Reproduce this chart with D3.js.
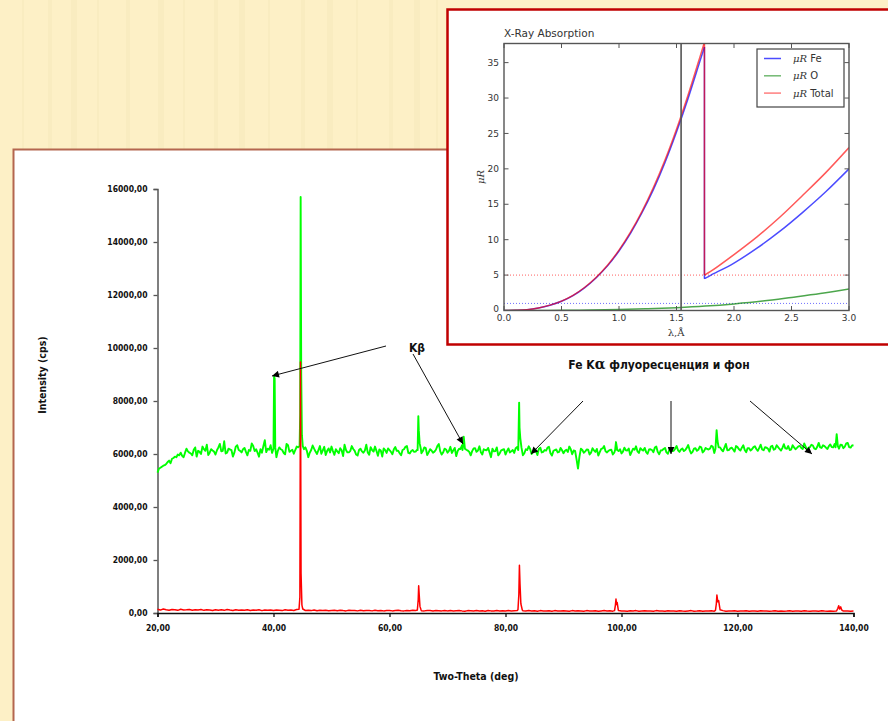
<!DOCTYPE html>
<html><head><meta charset="utf-8">
<script src="https://cdn.jsdelivr.net/npm/d3@7"></script>
<style>html,body{margin:0;padding:0;background:#fdf0c6;} svg{display:block}</style>
</head><body>
<svg id="c" width="888" height="721"></svg>
<script>
// ---------------- DATA ----------------
// main XRD scan: 2θ sampling grid (deg), half-degree points
const twoTheta = [
20,20.5,21,21.5,22,22.5,23,23.5,24,24.5,25,25.5,26,26.5,27,27.5,28,28.5,29,29.5,
30,30.5,31,31.5,32,32.5,33,33.5,34,34.5,35,35.5,36,36.5,37,37.5,38,38.5,39,39.5,
40,40.5,41,41.5,42,42.5,43,43.5,44,44.5,45,45.5,46,46.5,47,47.5,48,48.5,49,49.5,
50,50.5,51,51.5,52,52.5,53,53.5,54,54.5,55,55.5,56,56.5,57,57.5,58,58.5,59,59.5,
60,60.5,61,61.5,62,62.5,63,63.5,64,64.5,65,65.5,66,66.5,67,67.5,68,68.5,69,69.5,
70,70.5,71,71.5,72,72.5,73,73.5,74,74.5,75,75.5,76,76.5,77,77.5,78,78.5,79,79.5,
80,80.5,81,81.5,82,82.5,83,83.5,84,84.5,85,85.5,86,86.5,87,87.5,88,88.5,89,89.5,
90,90.5,91,91.5,92,92.5,93,93.5,94,94.5,95,95.5,96,96.5,97,97.5,98,98.5,99,99.5,
100,100.5,101,101.5,102,102.5,103,103.5,104,104.5,105,105.5,106,106.5,107,107.5,108,108.5,109,109.5,
110,110.5,111,111.5,112,112.5,113,113.5,114,114.5,115,115.5,116,116.5,117,117.5,118,118.5,119,119.5,
120,120.5,121,121.5,122,122.5,123,123.5,124,124.5,125,125.5,126,126.5,127,127.5,128,128.5,129,129.5,
130,130.5,131,131.5,132,132.5,133,133.5,134,134.5,135,135.5,136,136.5,137,137.5,138,138.5,139,139.5,
140];
// intermediate (quarter-degree) points of the green scan
const twoThetaQ = [
20.25,20.75,21.25,21.75,22.25,22.75,23.25,23.75,24.25,24.75,25.25,25.75,26.25,26.75,27.25,27.75,28.25,28.75,29.25,29.75,
30.25,30.75,31.25,31.75,32.25,32.75,33.25,33.75,34.25,34.75,35.25,35.75,36.25,36.75,37.25,37.75,38.25,38.75,39.25,39.75,
40.25,40.75,41.25,41.75,42.25,42.75,43.25,43.75,44.25,44.75,45.25,45.75,46.25,46.75,47.25,47.75,48.25,48.75,49.25,49.75,
50.25,50.75,51.25,51.75,52.25,52.75,53.25,53.75,54.25,54.75,55.25,55.75,56.25,56.75,57.25,57.75,58.25,58.75,59.25,59.75,
60.25,60.75,61.25,61.75,62.25,62.75,63.25,63.75,64.25,64.75,65.25,65.75,66.25,66.75,67.25,67.75,68.25,68.75,69.25,69.75,
70.25,70.75,71.25,71.75,72.25,72.75,73.25,73.75,74.25,74.75,75.25,75.75,76.25,76.75,77.25,77.75,78.25,78.75,79.25,79.75,
80.25,80.75,81.25,81.75,82.25,82.75,83.25,83.75,84.25,84.75,85.25,85.75,86.25,86.75,87.25,87.75,88.25,88.75,89.25,89.75,
90.25,90.75,91.25,91.75,92.25,92.75,93.25,93.75,94.25,94.75,95.25,95.75,96.25,96.75,97.25,97.75,98.25,98.75,99.25,99.75,
100.25,100.75,101.25,101.75,102.25,102.75,103.25,103.75,104.25,104.75,105.25,105.75,106.25,106.75,107.25,107.75,108.25,108.75,109.25,109.75,
110.25,110.75,111.25,111.75,112.25,112.75,113.25,113.75,114.25,114.75,115.25,115.75,116.25,116.75,117.25,117.75,118.25,118.75,119.25,119.75,
120.25,120.75,121.25,121.75,122.25,122.75,123.25,123.75,124.25,124.75,125.25,125.75,126.25,126.75,127.25,127.75,128.25,128.75,129.25,129.75,
130.25,130.75,131.25,131.75,132.25,132.75,133.25,133.75,134.25,134.75,135.25,135.75,136.25,136.75,137.25,137.75,138.25,138.75,139.25,139.75];
// green trace (Fe Kα fluorescence + background), cps, on twoTheta
const greenBase = [
5300,5480,5560,5620,5750,5820,5900,5980,6050,5880,
6200,6050,5950,6250,6120,6000,6180,6350,6050,6130,
5980,6250,6100,6480,6050,6170,5900,6280,6150,6060,
6230,5950,6120,6300,6180,5900,6050,6520,6200,6330,
6100,5880,6250,6150,5990,6330,6120,6010,6280,6200,
6060,6250,5880,6150,6200,6000,6300,6140,5960,6210,
6280,5970,6100,6220,5920,6150,6060,6300,6120,5940,
6200,6050,6350,5970,6150,6280,5930,6130,6210,6040,
6150,5990,6260,6120,5950,6180,6300,6020,6150,6090,
6120,6030,6250,5960,6180,6050,6160,6380,5980,6200,
6050,6270,6140,5920,6200,6330,6050,6130,5950,6210,
6080,6290,5980,6150,6230,5880,6100,6250,6020,6160,
5980,6210,6100,6040,6260,6100,5950,6180,6290,6000,
6180,5960,6240,6080,6130,6270,5940,6150,6060,6230,
6030,6160,6280,5990,6120,5450,6200,6050,6170,5980,
6220,6080,5940,6190,6300,6060,6150,5980,6260,6110,
6020,6240,6130,5960,6200,6290,6040,6160,6230,6010,
6180,6070,6280,5990,6140,6230,6010,6190,6120,6300,
6080,6210,6150,6340,6020,6200,6120,6280,6060,6230,
6170,6310,6040,6190,6250,6100,6380,6150,6240,6090,
6260,6130,6330,6070,6220,6180,6290,6120,6350,6140,
6240,6090,6310,6190,6260,6130,6370,6200,6150,6330,
6180,6290,6230,6400,6140,6260,6320,6180,6420,6230,
6300,6190,6360,6250,6480,6200,6340,6280,6420,6240,
6330];
// green trace, cps, on twoThetaQ
const greenQ = [
5450,5520,5580,5700,5650,5850,5880,5950,5930,6050,
6100,6020,6160,5900,6080,6280,6120,5960,6180,6090,
6140,6380,6120,6020,6200,6150,6050,6330,6120,6180,
6080,6150,6400,6110,6050,6180,6290,6070,6160,6040,
6000,6120,6180,6040,6380,6080,6160,6150,6250,6100,
6180,6120,6050,6320,6090,6150,6010,6270,6120,6060,
6110,6180,6030,6140,6350,6060,6120,6190,5980,6150,
6100,6130,6060,6260,6090,6120,6170,5900,6150,6210,
6080,6180,6120,6030,6150,6270,6040,6110,6080,6160,
6200,6110,6220,6060,6130,6090,6300,6100,6060,6170,
6120,6040,6230,6110,6190,6100,6160,6080,6110,6220,
6130,6070,6180,6140,6060,6200,6110,5950,6140,6180,
6110,6060,6150,6220,6100,6150,6030,6150,6190,6080,
6120,6190,6060,6150,6240,6030,6110,6170,6080,6140,
6120,6080,6180,6130,5800,5900,6150,6100,6160,6050,
6140,6190,6070,6210,6100,6120,6160,6050,6150,6180,
6090,6140,6210,6080,6160,6100,6220,6130,6070,6170,
6150,6240,6080,6130,6190,6060,6160,6110,6200,6140,
6170,6110,6230,6150,6080,6220,6160,6250,6120,6190,
6200,6270,6050,6100,6160,6240,6140,6210,6170,6300,
6180,6240,6150,6220,6130,6260,6190,6230,6170,6260,
6200,6280,6160,6330,6190,6230,6210,6300,6170,6250,
6230,6310,6190,6280,6240,6350,6200,6270,6250,6330,
6240,6300,6260,6380,6150,6350,6220,6400,6260,6320];
// red trace (filtered diffraction pattern), cps, on twoTheta
const redBase = [
140,110,150,120,105,135,125,100,140,115,
120,135,105,125,110,130,100,120,115,95,
125,105,120,100,130,110,95,120,105,115,
100,120,95,110,105,125,90,115,100,110,
95,115,105,90,120,100,110,95,130,110,
120,95,105,90,110,85,100,95,105,85,
95,100,85,105,90,80,100,90,95,80,
100,85,90,95,80,100,85,95,80,90,
95,80,90,100,85,80,95,85,100,90,
95,85,80,95,90,75,90,85,80,95,
80,90,75,85,95,80,70,90,85,75,
90,80,85,70,95,80,75,90,80,85,
75,90,80,85,90,70,85,80,90,75,
85,70,90,80,75,85,70,90,80,75,
85,80,70,90,75,85,80,70,90,80,
75,85,70,80,90,75,85,70,80,90,
75,80,70,85,75,90,70,80,85,75,
80,70,90,75,80,70,85,75,80,70,
85,75,70,80,90,70,75,85,70,80,
75,85,70,80,75,90,70,80,75,85,
70,80,75,85,70,80,75,70,85,75,
80,70,75,85,70,80,70,75,85,70,
75,80,70,85,75,70,80,75,70,85,
75,70,80,70,75,85,70,75,80,70,
75];
// narrow peaks (2θ, cps)
const greenPeakTheta = [
 [40.0,40.1,40.2,40.3],
 [44.5,44.6,44.68,44.78,44.9,45.05],
 [64.85,64.97,65.05,65.2,65.4],
 [72.6,72.8,73.0],
 [82.2,82.35,82.42,82.55,82.75],
 [98.9,99.05,99.2],
 [116.2,116.4,116.55,116.75],
 [136.9,137.1,137.3]];
const greenPeakCps = [
 [6200,8920,8850,6250],
 [6300,7500,15700,9000,6700,6300],
 [6150,7430,6900,6400,6200],
 [6150,6650,6200],
 [6150,7940,7000,6600,6250],
 [6150,6450,6250],
 [6200,6900,6500,6250],
 [6250,6750,6300]];
const redPeakTheta = [
 [44.4,44.55,44.65,44.75,44.9,45.05],
 [64.8,64.95,65.03,65.12,65.25,65.45],
 [82.15,82.3,82.4,82.5,82.65,82.9],
 [98.8,98.95,99.05,99.15,99.25,99.45],
 [116.2,116.35,116.45,116.6,116.75,117.0],
 [137.1,137.3,137.45,137.6,137.8,137.95,138.2]];
const redPeakCps = [
 [140,600,9470,1500,300,150],
 [110,500,1030,700,250,110],
 [120,700,1800,1100,350,110],
 [90,300,530,320,400,110],
 [100,350,680,420,470,120],
 [85,180,275,150,230,120,80]];
const xTicks = [20,40,60,80,100,120,140];
const yTicks = [0,2000,4000,6000,8000,10000,12000,14000,16000];

// inset: X-ray absorption
const lamBelow = [0,0.1,0.2,0.3,0.4,0.5,0.6,0.7,0.8,0.9,1.0,1.1,1.2,1.3,1.4,1.5,1.6,1.7,1.743];
const feBelow  = [0,0.02,0.1,0.35,0.75,1.3,2.1,3.2,4.6,6.3,8.4,10.9,13.8,17.1,20.9,25.2,29.9,35.0,37.2];
const totBelow = [0,0.02,0.1,0.35,0.76,1.33,2.14,3.25,4.67,6.4,8.53,11.06,14.0,17.4,21.25,25.6,30.4,35.6,37.9];
const lamAbove = [1.743,1.8,2.0,2.2,2.4,2.6,2.8,3.0];
const feAbove  = [4.5,5.0,6.7,8.8,11.2,13.9,16.8,20.0];
const totAbove = [5.0,5.55,7.9,10.4,13.2,16.3,19.5,23.0];
const lamO = [0,0.25,0.5,0.75,1.0,1.25,1.5,1.75,2.0,2.25,2.5,2.75,3.0];
const muO  = [0,0.005,0.03,0.07,0.13,0.24,0.4,0.62,0.93,1.33,1.85,2.4,3.05];
const cuKa = 1.54;
const refLevels = [5, 1];
const insetXTicks = [0,0.5,1.0,1.5,2.0,2.5,3.0];
const insetYTicks = [0,5,10,15,20,25,30,35];
const legendLabels = ["Fe","O","Total"];

// ---------------- DRAW ----------------
const svg = d3.select("#c");
const defs = svg.append("defs");

// background with faint vertical texture (decorative)
svg.append("rect").attr("width",888).attr("height",721).attr("fill","#fdf0c6");
const stripes = [22,48,71,97,126,158,183,214,239,268,301,327,356,389,414,436];
svg.selectAll("rect.stripe").data(stripes).join("rect").attr("class","stripe")
  .attr("x",d=>d).attr("y",0).attr("width",(d,i)=>2+(i%3)*2).attr("height",721)
  .attr("fill","#f1dfae").attr("opacity",0.25);

// main panel
svg.append("rect").attr("x",13.5).attr("y",149.5).attr("width",900).attr("height",600)
  .attr("fill","#fff").attr("stroke","#b4664f").attr("stroke-width",2);

const x = d3.scaleLinear().domain([20,140]).range([157.5,853.5]);
const y = d3.scaleLinear().domain([0,16000]).range([613,189]);

function merge(series, pX, pY){
  const pts = [];
  series.forEach(([bx,by])=>{
    bx.forEach((t,i)=>{
      const inside = pX.some(g => t >= g[0] && t <= g[g.length-1]);
      if(!inside) pts.push([t, by[i]]);
    });
  });
  pX.forEach((g,j)=> g.forEach((t,k)=> pts.push([t, pY[j][k]])));
  pts.sort((a,b)=>a[0]-b[0]);
  return pts;
}
const greenPts = merge([[twoTheta, greenBase],[twoThetaQ, greenQ]], greenPeakTheta, greenPeakCps);
const redPts = merge([[twoTheta, redBase]], redPeakTheta, redPeakCps);
const line = d3.line().x(d=>x(d[0])).y(d=>y(d[1]));

const fmt = d => d3.format(".2f")(d).replace(".", ",");
const tickFont = "'DejaVu Sans Condensed','DejaVu Sans',sans-serif";

const gy = svg.append("g").attr("transform","translate(157.5,0)")
  .call(d3.axisLeft(y).tickValues(yTicks).tickFormat(fmt).tickSize(4).tickPadding(6));
gy.select(".domain").attr("stroke","#555").attr("stroke-width",1.5);
gy.selectAll(".tick line").attr("stroke","#555").attr("stroke-width",1.3);
gy.selectAll("text").attr("font-family",tickFont).attr("font-weight","bold").attr("font-size","8.5px").attr("fill","#111");

const gx = svg.append("g").attr("transform","translate(0,613)")
  .call(d3.axisBottom(x).tickValues(xTicks).tickFormat(fmt).tickSize(4).tickPadding(8));
gx.select(".domain").attr("stroke","#111").attr("stroke-width",1.5);
gx.selectAll(".tick line").attr("stroke","#111").attr("stroke-width",1.3);
gx.selectAll("text").attr("font-family",tickFont).attr("font-weight","bold").attr("font-size","8.5px").attr("fill","#111");

svg.append("path").datum(greenPts).attr("d",line).attr("fill","none")
  .attr("stroke","#00ff00").attr("stroke-width",1.9).attr("stroke-linejoin","round");
svg.append("path").datum(redPts).attr("d",line).attr("fill","none")
  .attr("stroke","#ff0000").attr("stroke-width",1.5).attr("stroke-linejoin","round");

svg.append("text").attr("transform","translate(46,375) rotate(-90)")
  .attr("text-anchor","middle").attr("font-family",tickFont).attr("font-weight","bold")
  .attr("font-size","10.5px").attr("fill","#111").text("Intensity (cps)");
svg.append("text").attr("x",476).attr("y",680)
  .attr("text-anchor","middle").attr("font-family",tickFont).attr("font-weight","bold")
  .attr("font-size","10.5px").attr("fill","#111").text("Two-Theta (deg)");

// annotations
defs.append("marker").attr("id","ah").attr("viewBox","0 0 10 10").attr("refX",10).attr("refY",5)
  .attr("markerWidth",9).attr("markerHeight",7).attr("markerUnits","userSpaceOnUse").attr("orient","auto")
  .append("path").attr("d","M0,0 L10,5 L0,10 z").attr("fill","#000");
const arrows = [
  [386,346,272,376],[413,354,463,444],
  [583,401,531,454],[671,401,671,454],[750,401,812,454]];
svg.selectAll("line.arr").data(arrows).join("line").attr("class","arr")
  .attr("x1",d=>d[0]).attr("y1",d=>d[1]).attr("x2",d=>d[2]).attr("y2",d=>d[3])
  .attr("stroke","#111").attr("stroke-width",1).attr("marker-end","url(#ah)");
svg.append("text").attr("x",409).attr("y",352).attr("font-family",tickFont).attr("font-weight","bold")
  .attr("font-size","12px").attr("fill","#111").text("Kβ");
const fe = svg.append("text").attr("x",659).attr("y",369).attr("text-anchor","middle")
  .attr("font-family",tickFont).attr("font-weight","bold").attr("font-size","12px").attr("fill","#111");
fe.append("tspan").text("Fe K");
fe.append("tspan").attr("font-family","'DejaVu Serif',serif").attr("font-size","14px").text("α");
fe.append("tspan").text(" флуоресценция и фон");

// ---------------- INSET ----------------
svg.append("rect").attr("x",447.5).attr("y",9.5).attr("width",450).attr("height",335)
  .attr("fill","#fff").attr("stroke","#c00000").attr("stroke-width",2.5);

const ix = d3.scaleLinear().domain([0,3]).range([504,849]);
const iy = d3.scaleLinear().domain([0,37.7]).range([310.5,43.5]);
const ink = "#333";
const mfont = "'DejaVu Sans',sans-serif";

defs.append("clipPath").attr("id","ic").append("rect")
  .attr("x",504).attr("y",43.5).attr("width",345).attr("height",267);
const ig = svg.append("g").attr("clip-path","url(#ic)");

// dotted reference levels
ig.selectAll("line.ref").data(refLevels).join("line").attr("class","ref")
  .attr("x1",ix(0)).attr("x2",ix(3)).attr("y1",d=>iy(d)).attr("y2",d=>iy(d))
  .attr("stroke",(d,i)=> i===0 ? "#ff6060" : "#7070ff").attr("stroke-width",1)
  .attr("stroke-dasharray","1,2");

const il = d3.line().x(d=>ix(d[0])).y(d=>iy(d[1])).curve(d3.curveCatmullRom);
const zip = (a,b)=>a.map((v,i)=>[v,b[i]]);
function drawMu(below, above, color, op){
  ig.append("path").datum(zip(lamBelow,below)).attr("d",il).attr("fill","none")
    .attr("stroke",color).attr("stroke-width",1.5).attr("opacity",op);
  ig.append("path").datum([[lamBelow[lamBelow.length-1],below[below.length-1]],[lamAbove[0],above[0]]])
    .attr("d",d3.line().x(d=>ix(d[0])).y(d=>iy(d[1]))).attr("fill","none")
    .attr("stroke",color).attr("stroke-width",1.5).attr("opacity",op);
  ig.append("path").datum(zip(lamAbove,above)).attr("d",il).attr("fill","none")
    .attr("stroke",color).attr("stroke-width",1.5).attr("opacity",op);
}
drawMu(feBelow, feAbove, "#0000ff", 0.7);
ig.append("path").datum(zip(lamO,muO)).attr("d",il).attr("fill","none")
  .attr("stroke","#008000").attr("stroke-width",1.5).attr("opacity",0.7);
drawMu(totBelow, totAbove, "#ff0000", 0.65);

// Cu Kα line
svg.append("line").attr("x1",ix(cuKa)).attr("x2",ix(cuKa)).attr("y1",iy(37.7)).attr("y2",iy(0))
  .attr("stroke","#555").attr("stroke-width",1.6);

// frame + ticks (inward, all sides)
svg.append("rect").attr("x",504).attr("y",43.5).attr("width",345).attr("height",267)
  .attr("fill","none").attr("stroke","#555").attr("stroke-width",1.4);
const tk = svg.append("g").attr("stroke","#555").attr("stroke-width",1);
insetXTicks.forEach(t=>{
  tk.append("line").attr("x1",ix(t)).attr("x2",ix(t)).attr("y1",310.5).attr("y2",306);
  tk.append("line").attr("x1",ix(t)).attr("x2",ix(t)).attr("y1",43.5).attr("y2",48);
});
insetYTicks.forEach(t=>{
  tk.append("line").attr("y1",iy(t)).attr("y2",iy(t)).attr("x1",504).attr("x2",508.5);
  tk.append("line").attr("y1",iy(t)).attr("y2",iy(t)).attr("x1",849).attr("x2",844.5);
});
svg.selectAll("text.ixt").data(insetXTicks).join("text").attr("class","ixt")
  .attr("x",d=>ix(d)).attr("y",321).attr("text-anchor","middle")
  .attr("font-family",mfont).attr("font-size","9px").attr("fill",ink).text(d=>d3.format(".1f")(d));
svg.selectAll("text.iyt").data(insetYTicks).join("text").attr("class","iyt")
  .attr("x",499).attr("y",d=>iy(d)+(d===0?1.5:3.2)).attr("text-anchor","end")
  .attr("font-family",mfont).attr("font-size","9px").attr("fill",ink).text(d=>d);

svg.append("text").attr("x",504).attr("y",37).attr("font-family",mfont).attr("font-size","10.5px")
  .attr("fill",ink).text("X-Ray Absorption");
svg.append("text").attr("x",676).attr("y",336).attr("text-anchor","middle")
  .attr("font-family","'DejaVu Serif',serif").attr("font-size","10px").attr("fill",ink).text("λ,Å");
svg.append("text").attr("transform","translate(484,177) rotate(-90)").attr("text-anchor","middle")
  .attr("font-family","'DejaVu Serif',serif").attr("font-style","italic").attr("font-size","10px")
  .attr("fill",ink).text("μR");

// legend
const lg = svg.append("g");
lg.append("rect").attr("x",757).attr("y",49).attr("width",87).attr("height",58)
  .attr("fill","#fff").attr("stroke","#444").attr("stroke-width",1.2);
const lcol = ["#0000ff","#008000","#ff0000"];
const lop = [0.7,0.55,0.5];
legendLabels.forEach((lab,i)=>{
  const yy = 58.5 + i*17.3;
  lg.append("line").attr("x1",764).attr("x2",781).attr("y1",yy).attr("y2",yy)
    .attr("stroke",lcol[i]).attr("stroke-width",1.5).attr("opacity",lop[i]);
  const t = lg.append("text").attr("x",793).attr("y",yy+3.6).attr("font-size","10px").attr("fill",ink);
  t.append("tspan").attr("font-family","'DejaVu Serif',serif").attr("font-style","italic").text("μR");
  t.append("tspan").attr("font-family",mfont).text(" " + lab);
});
</script>
</body></html>
